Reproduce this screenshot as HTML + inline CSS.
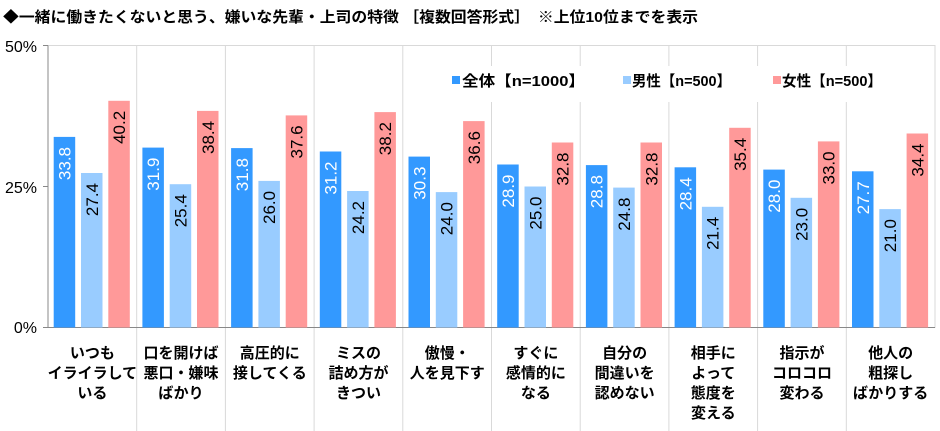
<!DOCTYPE html>
<html><head><meta charset="utf-8"><style>
html,body{margin:0;padding:0;background:#fff}
svg{display:block}
text{font-family:"Liberation Sans","Noto Sans CJK JP",sans-serif}
.v{font-size:17px}
.c{font-size:15px;font-weight:bold;text-anchor:middle}
</style></head><body>
<svg width="940" height="431" viewBox="0 0 940 431" xmlns="http://www.w3.org/2000/svg">
<text x="3" y="22" font-size="15" font-weight="bold" textLength="695" lengthAdjust="spacingAndGlyphs">◆一緒に働きたくないと思う、嫌いな先輩・上司の特徴 ［複数回答形式］　※上位10位までを表示</text>
<rect x="48" y="45.5" width="887" height="282" fill="none" stroke="#d9d9d9"/>
<g stroke="#d9d9d9">
<line x1="136.7" y1="45.5" x2="136.7" y2="431"/><line x1="225.4" y1="45.5" x2="225.4" y2="431"/>
<line x1="314.1" y1="45.5" x2="314.1" y2="431"/><line x1="402.8" y1="45.5" x2="402.8" y2="431"/>
<line x1="491.5" y1="45.5" x2="491.5" y2="431"/><line x1="580.2" y1="45.5" x2="580.2" y2="431"/>
<line x1="668.9" y1="45.5" x2="668.9" y2="431"/><line x1="757.6" y1="45.5" x2="757.6" y2="431"/>
<line x1="846.3" y1="45.5" x2="846.3" y2="431"/>
</g>
<line x1="48" y1="45.5" x2="48" y2="327.5" stroke="#888"/>
<line x1="43" y1="45.5" x2="48" y2="45.5" stroke="#888"/>
<line x1="43" y1="186.5" x2="48" y2="186.5" stroke="#888"/>
<line x1="43" y1="327.5" x2="935" y2="327.5" stroke="#888"/>
<g font-size="16" text-anchor="end">
<text x="37" y="52">50%</text><text x="37" y="193">25%</text><text x="37" y="333">0%</text>
</g>
<rect x="445" y="66" width="450" height="36" fill="#fff"/>
<rect x="452" y="76" width="8" height="8" fill="#3399ff"/>
<text x="462" y="86" font-size="15" font-weight="bold" textLength="123" lengthAdjust="spacingAndGlyphs">全体【n=1000】</text>
<rect x="623" y="76" width="8" height="8" fill="#99ccff"/>
<text x="632" y="86" font-size="15" font-weight="bold" textLength="99" lengthAdjust="spacingAndGlyphs">男性【n=500】</text>
<rect x="773" y="76" width="8" height="8" fill="#ff9999"/>
<text x="782" y="86" font-size="15" font-weight="bold" textLength="100" lengthAdjust="spacingAndGlyphs">女性【n=500】</text>
<g fill="#3399ff">
<rect x="53.7" y="136.9" width="21.5" height="190.6"/>
<rect x="142.4" y="147.6" width="21.5" height="179.9"/>
<rect x="231.1" y="148.1" width="21.5" height="179.4"/>
<rect x="319.8" y="151.5" width="21.5" height="176"/>
<rect x="408.5" y="156.6" width="21.5" height="170.9"/>
<rect x="497.2" y="164.5" width="21.5" height="163"/>
<rect x="585.9" y="165.1" width="21.5" height="162.4"/>
<rect x="674.6" y="167.3" width="21.5" height="160.2"/>
<rect x="763.3" y="169.6" width="21.5" height="157.9"/>
<rect x="852" y="171.3" width="21.5" height="156.2"/>
</g>
<g fill="#99ccff">
<rect x="81" y="173" width="21.5" height="154.5"/>
<rect x="169.7" y="184.2" width="21.5" height="143.3"/>
<rect x="258.4" y="180.9" width="21.5" height="146.6"/>
<rect x="347.1" y="191" width="21.5" height="136.5"/>
<rect x="435.8" y="192.1" width="21.5" height="135.4"/>
<rect x="524.5" y="186.5" width="21.5" height="141"/>
<rect x="613.2" y="187.6" width="21.5" height="139.9"/>
<rect x="701.9" y="206.8" width="21.5" height="120.7"/>
<rect x="790.6" y="197.8" width="21.5" height="129.7"/>
<rect x="879.3" y="209.1" width="21.5" height="118.4"/>
</g>
<g fill="#ff9999">
<rect x="108.3" y="100.8" width="21.5" height="226.7"/>
<rect x="197" y="110.9" width="21.5" height="216.6"/>
<rect x="285.7" y="115.4" width="21.5" height="212.1"/>
<rect x="374.4" y="112.1" width="21.5" height="215.4"/>
<rect x="463.1" y="121.1" width="21.5" height="206.4"/>
<rect x="551.8" y="142.5" width="21.5" height="185"/>
<rect x="640.5" y="142.5" width="21.5" height="185"/>
<rect x="729.2" y="127.8" width="21.5" height="199.7"/>
<rect x="817.9" y="141.4" width="21.5" height="186.1"/>
<rect x="906.6" y="133.5" width="21.5" height="194"/>
</g>
<g class="v" fill="#fff" text-anchor="end">
<text transform="translate(70.5,147) rotate(-90)">33.8</text>
<text transform="translate(159.2,157.6) rotate(-90)">31.9</text>
<text transform="translate(247.9,158.1) rotate(-90)">31.8</text>
<text transform="translate(336.6,161.5) rotate(-90)">31.2</text>
<text transform="translate(425.3,166.6) rotate(-90)">30.3</text>
<text transform="translate(514,174.5) rotate(-90)">28.9</text>
<text transform="translate(602.7,175.1) rotate(-90)">28.8</text>
<text transform="translate(691.4,177.3) rotate(-90)">28.4</text>
<text transform="translate(780.1,179.6) rotate(-90)">28.0</text>
<text transform="translate(868.8,181.3) rotate(-90)">27.7</text>
</g>
<g class="v" fill="#000" text-anchor="end">
<text transform="translate(97.8,183) rotate(-90)">27.4</text>
<text transform="translate(186.5,194.2) rotate(-90)">25.4</text>
<text transform="translate(275.2,190.9) rotate(-90)">26.0</text>
<text transform="translate(363.9,201) rotate(-90)">24.2</text>
<text transform="translate(452.6,202.1) rotate(-90)">24.0</text>
<text transform="translate(541.3,196.5) rotate(-90)">25.0</text>
<text transform="translate(630,197.6) rotate(-90)">24.8</text>
<text transform="translate(718.7,216.8) rotate(-90)">21.4</text>
<text transform="translate(807.4,207.8) rotate(-90)">23.0</text>
<text transform="translate(896.1,219.1) rotate(-90)">21.0</text>
<text transform="translate(125.1,110.8) rotate(-90)">40.2</text>
<text transform="translate(213.8,120.9) rotate(-90)">38.4</text>
<text transform="translate(302.5,125.4) rotate(-90)">37.6</text>
<text transform="translate(391.2,122.1) rotate(-90)">38.2</text>
<text transform="translate(479.9,131.1) rotate(-90)">36.6</text>
<text transform="translate(568.6,152.5) rotate(-90)">32.8</text>
<text transform="translate(657.3,152.5) rotate(-90)">32.8</text>
<text transform="translate(746,137.8) rotate(-90)">35.4</text>
<text transform="translate(834.7,151.4) rotate(-90)">33.0</text>
<text transform="translate(923.4,143.5) rotate(-90)">34.4</text>
</g>
<g class="c">
<text x="92.4" y="358">いつも</text><text x="92.4" y="378">イライラして</text><text x="92.4" y="398">いる</text>
<text x="181" y="358">口を開けば</text><text x="181" y="378">悪口・嫌味</text><text x="181" y="398">ばかり</text>
<text x="269.8" y="358">高圧的に</text><text x="269.8" y="378">接してくる</text>
<text x="358.5" y="358">ミスの</text><text x="358.5" y="378">詰め方が</text><text x="358.5" y="398">きつい</text>
<text x="447.2" y="358">傲慢・</text><text x="447.2" y="378">人を見下す</text>
<text x="535.9" y="358">すぐに</text><text x="535.9" y="378">感情的に</text><text x="535.9" y="398">なる</text>
<text x="624.6" y="358">自分の</text><text x="624.6" y="378">間違いを</text><text x="624.6" y="398">認めない</text>
<text x="713.3" y="358">相手に</text><text x="713.3" y="378">よって</text><text x="713.3" y="398">態度を</text><text x="713.3" y="418">変える</text>
<text x="802" y="358">指示が</text><text x="802" y="378">コロコロ</text><text x="802" y="398">変わる</text>
<text x="890.6" y="358">他人の</text><text x="890.6" y="378">粗探し</text><text x="890.6" y="398">ばかりする</text>
</g>
</svg>
</body></html>
